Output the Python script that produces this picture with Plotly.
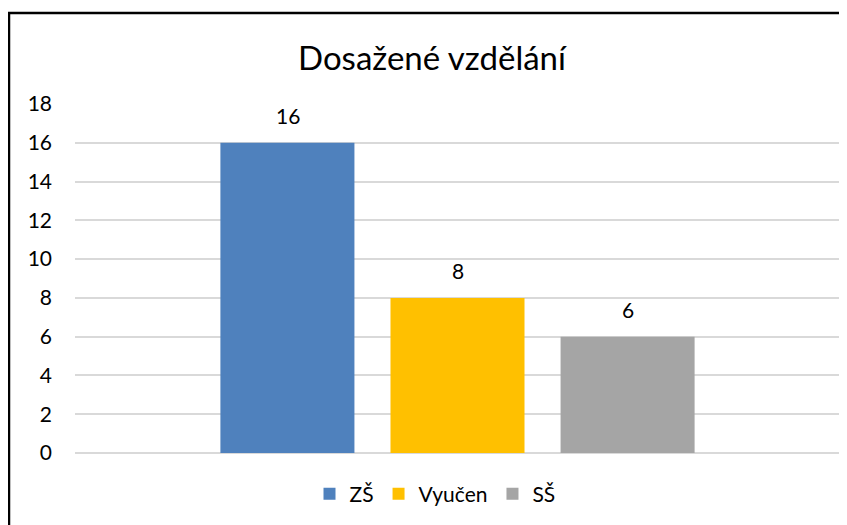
import plotly.graph_objects as go

series_names = ["ZŠ", "Vyučen", "SŠ"]
series_values = [16, 8, 6]
series_colors = ["#4F81BD", "#FFC000", "#A5A5A5"]
category = ["Dosažené vzdělání"]
title_text = "Dosažené vzdělání"
y_ticks = [0, 2, 4, 6, 8, 10, 12, 14, 16, 18]

FONT = "Lato, Calibri, Carlito, sans-serif"

# the page body adds an 8px margin, so the figure is 8px smaller than the window
W, H = 839, 517
L, R, T, B = 67, 7, 96, 72
pw = W - L - R
ph = H - T - B

fig = go.Figure()
for name, val, col in zip(series_names, series_values, series_colors):
    fig.add_trace(go.Bar(
        x=category, y=[val], name=name,
        marker=dict(color=col, line=dict(width=0)),
        cliponaxis=False,
    ))

# data labels above each bar of the group
slot = 170
n = len(series_values)
for i, val in enumerate(series_values):
    fig.add_annotation(
        x=category[0], y=val, text=str(val), showarrow=False,
        xshift=(i - (n - 1) / 2) * slot, yanchor="bottom", yshift=13,
        font=dict(size=21, family=FONT, color="#000000"),
    )

fig.update_layout(
    width=W, height=H,
    margin=dict(l=L, r=R, t=T, b=B, pad=0),
    paper_bgcolor="white", plot_bgcolor="white",
    barmode="group", bargap=0.333, bargroupgap=0.212,
    font=dict(family=FONT, size=21, color="#000000"),
    title=dict(text=title_text, x=424 / W, xanchor="center", xref="container",
               y=1 - 50 / H, yanchor="middle", yref="container",
               font=dict(size=33, family=FONT, color="#000000")),
    showlegend=True,
    legend=dict(orientation="h", xref="container", yref="container",
                x=427 / W, xanchor="center", y=1 - 486 / H, yanchor="middle",
                font=dict(size=21, family=FONT, color="#000000"),
                itemwidth=30, traceorder="normal"),
    xaxis=dict(showticklabels=False, showgrid=False, zeroline=False, showline=False,
               ticks=""),
    yaxis=dict(range=[0, 18], tickvals=y_ticks, showgrid=True, gridcolor="#D9D9D9",
               gridwidth=2, zeroline=True, zerolinecolor="#D9D9D9", zerolinewidth=2,
               showline=False, ticks="", ticklabelstandoff=22,
               tickfont=dict(size=21, family=FONT, color="#000000")),
)

# outer chart border (extends past the right and bottom edges of the picture)
x0 = (1 - L) / pw
y1 = (H - B - 5) / ph
fig.add_shape(type="rect", xref="paper", yref="paper",
              x0=x0, x1=1.2, y0=-0.5, y1=y1,
              line=dict(color="black", width=2.5), fillcolor="rgba(0,0,0,0)",
              layer="above")

fig.write_html("out.html")
